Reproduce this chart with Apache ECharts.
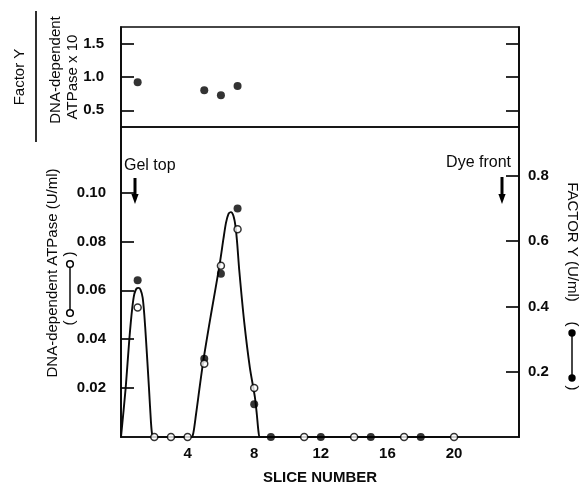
<!DOCTYPE html>
<html>
<head>
<meta charset="utf-8">
<script src="https://cdn.jsdelivr.net/npm/echarts@6/dist/echarts.min.js"></script>
<style>
html,body{margin:0;padding:0;background:#fff;}
#chart{width:588px;height:490px;}
</style>
</head>
<body>
<div id="chart"></div>
<script>
// ---- data ----
// Top panel: Factor Y / DNA-dependent ATPase x 10
const topSlices = [1, 5, 6, 7];
const topRatio = [0.92, 0.80, 0.725, 0.865];

// Bottom panel: DNA-dependent ATPase (U/ml), open circles, left axis
const atpaseSlices = [1, 2, 3, 4, 5, 6, 7, 8, 11, 14, 17, 20];
const atpaseValues = [0.053, 0, 0, 0, 0.030, 0.070, 0.085, 0.020, 0, 0, 0, 0];

// Bottom panel: Factor Y (U/ml), filled circles, right axis
const factorSlices = [1, 5, 6, 7, 8, 9, 12, 15, 18];
const factorValues = [0.48, 0.24, 0.50, 0.70, 0.10, 0, 0, 0, 0];

// Hand-drawn profile curve (in ATPase units)
const curveSlices = [0, 0.28, 0.5, 0.68, 0.8, 0.93, 1.05, 1.17, 1.3, 1.4, 1.5, 1.68, 1.8, 1.87, 1.95,
                     4.2, 4.3, 4.38, 4.5, 4.94, 5.4, 5.9, 6.15, 6.3, 6.45, 6.6, 6.75, 6.88, 6.98, 7.1, 7.4, 7.74, 8.04, 8.16, 8.26, 8.35, 20];
const curveValues = [0, 0.02, 0.04, 0.053, 0.0585, 0.0607, 0.061, 0.0603, 0.057, 0.05, 0.04, 0.02, 0.006, 0.001, 0,
                     0, 0.0005, 0.003, 0.009, 0.031, 0.05, 0.0696, 0.081, 0.0875, 0.0912, 0.092, 0.0905, 0.086, 0.079, 0.0683, 0.047, 0.0283, 0.0163, 0.009, 0.002, 0, 0];

// Tick labels
const xTicks = [4, 8, 12, 16, 20];
const topTicks = [0.5, 1.0, 1.5];
const atpaseTicks = [0.02, 0.04, 0.06, 0.08, 0.10];
const factorTicks = [0.2, 0.4, 0.6, 0.8];

// ---- chart ----
const INK = '#0a0a0a';
const NUMFONT = '"Liberation Sans Narrow", "Liberation Sans", Arial, sans-serif';
const TXTFONT = '"Liberation Sans", Arial, sans-serif';

const zip = (a, b) => a.map((v, i) => [v, b[i]]);

const chart = echarts.init(document.getElementById('chart'), null, {renderer: 'canvas'});

const GL = 121, GW = 398;
const XMAX = 23.9;

function yAx(gridIndex, pos, min, max, ticks, showLabels, digits, margin) {
  return {
    type: 'value', gridIndex: gridIndex, position: pos, min: min, max: max,
    axisLine: {show: true, onZero: false, lineStyle: {color: INK, width: 1.7}},
    axisTick: {show: true, inside: true, length: 13, customValues: ticks, lineStyle: {color: INK, width: 1.7}},
    axisLabel: {show: showLabels, customValues: ticks, margin: margin,
      formatter: v => Number(v).toFixed(digits),
      fontFamily: NUMFONT, fontSize: 15, fontWeight: 'bold', color: INK},
    splitLine: {show: false}
  };
}

const option = {
  animation: false,
  backgroundColor: '#fff',
  grid: [
    {left: GL, top: 27, width: GW, height: 100, show: true, borderColor: INK, borderWidth: 1.7},
    {left: GL, top: 127, width: GW, height: 317, show: true, borderColor: INK, borderWidth: 1.7}
  ],
  xAxis: [
    {type: 'value', gridIndex: 0, min: 0, max: XMAX,
     axisLine: {show: false}, axisTick: {show: false}, axisLabel: {show: false}, splitLine: {show: false}},
    {type: 'value', gridIndex: 1, min: 0, max: XMAX,
     axisLine: {show: true, lineStyle: {color: INK, width: 1.7}},
     axisTick: {show: false},
     axisLabel: {customValues: xTicks, margin: 9, fontFamily: NUMFONT, fontSize: 15, fontWeight: 'bold', color: INK},
     splitLine: {show: false},
     name: 'SLICE NUMBER', nameLocation: 'middle', nameGap: 33,
     nameTextStyle: {fontFamily: TXTFONT, fontSize: 15, fontWeight: 'bold', color: INK}}
  ],
  yAxis: [
    yAx(0, 'left', 0.25, 1.75, topTicks, true, 1, 17),
    yAx(0, 'right', 0.25, 1.75, topTicks, false, 1, 9),
    yAx(1, 'left', 0, 0.1268, atpaseTicks, true, 2, 15),
    yAx(1, 'right', 0, 0.9495, factorTicks, true, 1, 9)
  ],
  series: [
    {type: 'scatter', xAxisIndex: 0, yAxisIndex: 0, data: zip(topSlices, topRatio),
     symbol: 'circle', symbolSize: 8, itemStyle: {color: '#000'}, z: 5},
    {type: 'line', xAxisIndex: 1, yAxisIndex: 2, data: zip(curveSlices, curveValues),
     showSymbol: false, smooth: 0.25, lineStyle: {color: INK, width: 1.9}, z: 2},
    {type: 'scatter', xAxisIndex: 1, yAxisIndex: 3, data: zip(factorSlices, factorValues),
     symbol: 'circle', symbolSize: 8, itemStyle: {color: '#000'}, z: 4},
    {type: 'scatter', xAxisIndex: 1, yAxisIndex: 2, data: zip(atpaseSlices, atpaseValues),
     symbol: 'circle', symbolSize: 7, itemStyle: {color: '#fff', borderColor: '#000', borderWidth: 1.5}, z: 6}
  ]
};
chart.setOption(option);

// ---- annotations (titles, arrows, symbol keys) ----
function vtext(x, y, text, rot, size, weight) {
  return {type: 'text', x: x, y: y, rotation: rot,
    style: {text: text, fill: INK, font: (weight || 'normal') + ' ' + size + 'px ' + TXTFONT,
            align: 'center', verticalAlign: 'middle'}};
}
function arrow(x, y0, y1) {
  return {type: 'group', children: [
    {type: 'line', shape: {x1: x, y1: y0, x2: x, y2: y1 - 8}, style: {stroke: '#000', lineWidth: 3}},
    {type: 'polygon', shape: {points: [[x - 3.6, y1 - 10], [x + 3.6, y1 - 10], [x, y1]]}, style: {fill: '#000'}}
  ]};
}
const R = Math.PI / 2;
chart.setOption({
  graphic: [
    // top-left fraction title
    vtext(20, 77, 'Factor Y', R, 15),
    {type: 'line', shape: {x1: 36, y1: 11, x2: 36, y2: 142}, style: {stroke: INK, lineWidth: 1.7}},
    vtext(56, 70, 'DNA-dependent', R, 15),
    vtext(73, 77, 'ATPase x 10', R, 15),
    // bottom-left title with open-circle key
    vtext(53, 273, 'DNA-dependent ATPase (U/ml)', R, 15),
    vtext(70, 323, '(', R, 15),
    vtext(70, 254, ')', R, 15),
    {type: 'line', shape: {x1: 70, y1: 264, x2: 70, y2: 313}, style: {stroke: INK, lineWidth: 1.5}},
    {type: 'circle', shape: {cx: 70, cy: 264, r: 3.3}, style: {fill: '#fff', stroke: '#000', lineWidth: 1.5}},
    {type: 'circle', shape: {cx: 70, cy: 313, r: 3.3}, style: {fill: '#fff', stroke: '#000', lineWidth: 1.5}},
    // right title with filled-circle key
    vtext(572, 242, 'FACTOR Y (U/ml)', -R, 15),
    vtext(572, 324, '(', -R, 15),
    vtext(572, 388, ')', -R, 15),
    {type: 'line', shape: {x1: 572, y1: 333, x2: 572, y2: 378}, style: {stroke: INK, lineWidth: 1.5}},
    {type: 'circle', shape: {cx: 572, cy: 333, r: 3.7}, style: {fill: '#000'}},
    {type: 'circle', shape: {cx: 572, cy: 378, r: 3.7}, style: {fill: '#000'}},
    // gel markers
    {type: 'text', x: 124, y: 166, style: {text: 'Gel top', fill: INK, font: '16px ' + TXTFONT, align: 'left', verticalAlign: 'middle'}},
    arrow(135, 178, 204),
    {type: 'text', x: 511, y: 163, style: {text: 'Dye front', fill: INK, font: '16px ' + TXTFONT, align: 'right', verticalAlign: 'middle'}},
    arrow(502, 177, 204)
  ]
});
</script>
</body>
</html>
